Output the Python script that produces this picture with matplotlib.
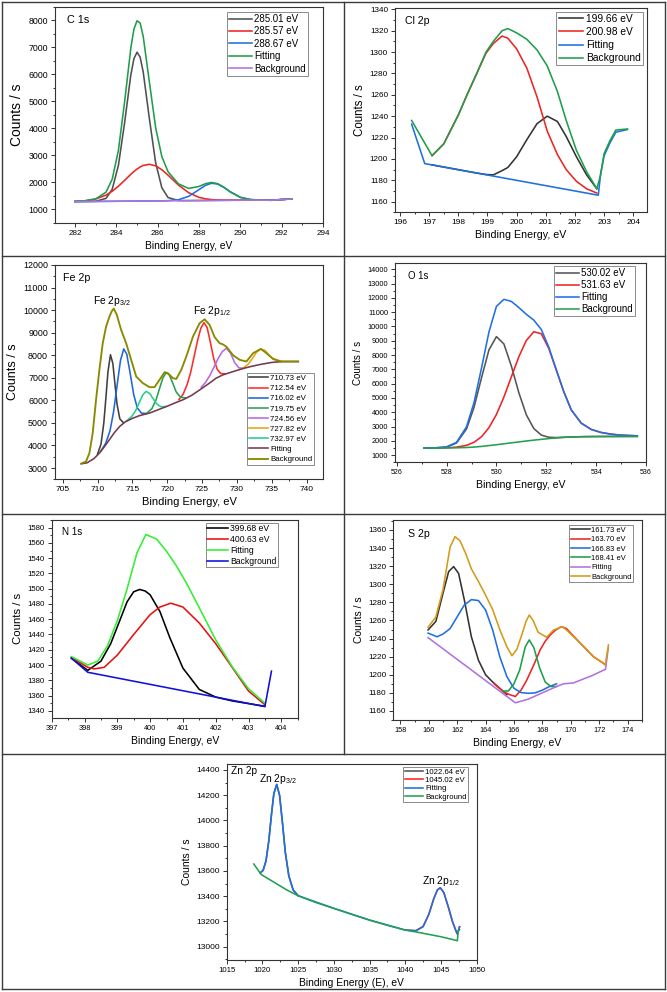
import matplotlib
matplotlib.use("Agg")
import matplotlib.pyplot as plt
from matplotlib.lines import Line2D
from matplotlib.ticker import MultipleLocator

plt.rcParams["font.family"] = ["Liberation Sans", "DejaVu Sans"]
plt.rcParams["mathtext.default"] = "regular"

FIG_W, FIG_H = 667, 992

# ---------------- C 1s ----------------
c1s_x = [282.0, 282.5, 283.0, 283.5, 283.8, 284.1, 284.4, 284.7, 284.85, 285.0,
         285.15, 285.3, 285.6, 285.9, 286.2, 286.5, 287.0, 287.5, 288.0, 288.3,
         288.6, 288.9, 289.2, 289.5, 290.0, 290.5, 291.0, 291.5, 292.0, 292.5]
c1s_285_01 = [1285, 1288, 1295, 1403, 1743, 2632, 4216, 5984, 6585, 6823,
              6642, 6084, 4345, 2729, 1798, 1435, 1322, 1320, 1323, 1325,
              1327, 1329, 1331, 1333, 1336, 1338, 1338, 1334, 1360, 1383]
c1s_285_57 = [1292, 1316, 1379, 1525, 1668, 1854, 2071, 2296, 2400, 2492,
              2568, 2625, 2667, 2609, 2466, 2265, 1900, 1612, 1441, 1388,
              1358, 1343, 1337, 1335, 1336, 1338, 1338, 1334, 1360, 1383]
c1s_288_67 = [1285, 1288, 1290, 1293, 1295, 1297, 1299, 1301, 1302, 1303,
              1304, 1305, 1307, 1309, 1311, 1318, 1353, 1479, 1728, 1881,
              1964, 1935, 1811, 1650, 1441, 1359, 1341, 1334, 1360, 1383]
c1s_fit = [1292, 1316, 1384, 1635, 2116, 3189, 4988, 6979, 7683, 7990,
           7906, 7404, 5705, 4029, 2953, 2392, 1943, 1771, 1846, 1944,
           1995, 1949, 1817, 1652, 1441, 1359, 1341, 1334, 1360, 1383]
c1s_bg = [1285, 1288, 1290, 1293, 1295, 1297, 1299, 1301, 1302, 1303,
          1304, 1305, 1307, 1309, 1311, 1313, 1316, 1320, 1323, 1325,
          1327, 1329, 1331, 1333, 1336, 1338, 1338, 1334, 1360, 1383]

# ---------------- Cl 2p ----------------
cl_base_x = [196.4, 196.85, 202.8, 202.88, 203.0, 203.2, 203.4, 203.8]
cl_base = [1232.5, 1195.6, 1166, 1186, 1203, 1215, 1225, 1227.5]
cl_x = [197.1, 197.5, 198.0, 198.3, 198.65, 198.95, 199.2, 199.5, 199.7, 200.0,
        200.35, 200.7, 201.05, 201.4, 201.7, 202.05, 202.4, 202.75]
cl_199_66 = [1194.4, 1192.4, 1189.9, 1188.4, 1186.7, 1185.4, 1185, 1189, 1192, 1202,
             1218, 1233, 1240, 1235, 1221, 1202, 1185, 1172]
cl_200_98 = [1203, 1214, 1241, 1260, 1281, 1299, 1308, 1315, 1313, 1303,
             1285, 1258, 1226, 1204, 1190, 1179, 1172, 1168]
cl_env_x = [196.4, 197.1, 197.5, 198.0, 198.3, 198.65, 198.95, 199.2, 199.5, 199.7,
            200.0, 200.35, 200.7, 201.05, 201.4, 201.7, 202.05, 202.4, 202.75, 202.88,
            203.0, 203.2, 203.4, 203.8]
cl_env = [1236, 1203, 1214, 1241, 1260, 1281, 1300, 1310, 1320, 1322,
          1318, 1312, 1302, 1287, 1263, 1236, 1208, 1188, 1172, 1185,
          1205, 1217, 1227, 1228]

# ---------------- Fe 2p ----------------
fe_x_710 = [710.0, 710.5, 710.9, 711.2, 711.5, 711.86, 712.2, 712.5, 712.8, 713.2, 713.7]
fe_710 = [3611, 4057, 4983, 6096, 7273, 8020, 7639, 6735, 5834, 5181, 5014]
fe_x_712 = [710.5, 711.2, 711.8, 712.3, 712.8, 713.3, 713.77, 714.2, 714.7, 715.2,
            715.7, 716.3, 717.0]
fe_712 = [3758, 4113, 4661, 5484, 6637, 7778, 8280, 8043, 7173, 6250,
          5674, 5433, 5414]
fe_x_716 = [721.68, 722.28, 722.88, 723.38, 723.88, 724.38, 724.83, 725.28, 725.73,
            726.18, 726.68, 727.18, 727.68, 728.28]
fe_716 = [6031, 6271, 6712, 7259, 7964, 8682, 9196, 9445, 9229,
          8594, 7845, 7375, 7189, 7178]
fe_x_719 = [717.1, 717.8, 718.4, 718.9, 719.4, 719.86, 720.3, 720.8, 721.3, 721.9, 722.6]
fe_719 = [5439, 5630, 6023, 6523, 7011, 7230, 7130, 6762, 6369, 6142, 6106]
fe_x_724 = [724.89, 725.49, 726.09, 726.69, 727.29, 727.89, 728.49, 729.09, 729.69,
            730.29, 730.89]
fe_724 = [6583, 6793, 7084, 7455, 7845, 8158, 8310, 8093, 7667, 7440, 7422]
fe_x_727 = [730.43, 731.03, 731.63, 732.23, 732.83, 733.43, 734.03, 734.63, 735.23,
            735.83, 736.43]
fe_727 = [7373, 7459, 7607, 7856, 8141, 8270, 8211, 8001, 7822, 7739, 7723]
fe_x_732 = [714.2, 714.9, 715.5, 716.0, 716.5, 716.98, 717.5, 718.0, 718.5, 719.1, 719.8]
fe_732 = [5095, 5280, 5561, 5908, 6244, 6400, 6300, 6063, 5843, 5717, 5728]
fe_base_x = [707.7, 708.5, 709.5, 710.3, 711.0, 711.7, 712.4, 713.2, 714.0, 715.0,
             716.0, 717.5, 719.0, 720.0, 721.0, 722.3, 723.5, 724.7, 726.0, 727.0,
             728.0, 729.5, 731.0, 732.0, 733.5, 735.0, 736.6, 738.8]
fe_base = [3190, 3230, 3420, 3670, 3950, 4250, 4560, 4850, 5050, 5200,
           5320, 5440, 5620, 5740, 5870, 6030, 6220, 6470, 6750, 6980,
           7130, 7280, 7420, 7500, 7600, 7680, 7720, 7720]
fe_env_x = [707.64, 708.36, 708.84, 709.31, 709.79, 710.27, 710.75, 711.23, 711.71, 712.05,
            712.33, 712.77, 713.39, 714.11, 714.83, 715.55, 716.51, 717.46, 718.18, 718.9,
            719.62, 720.1, 720.82, 721.3, 722.02, 722.74, 723.7, 724.65, 725.37, 726.09,
            726.81, 727.53, 728.0, 728.49, 729.45, 730.41, 731.37, 732.33, 733.43, 734.24,
            735.2, 736.4, 738.8]
fe_env = [3192, 3295, 3664, 4549, 6025, 7352, 8533, 9270, 9713, 9950,
          10070, 9787, 9123, 8533, 7795, 7057, 6762, 6585, 6585, 6910,
          7249, 7205, 6984, 6950, 7352, 7943, 8828, 9418, 9595, 9344,
          8800, 8533, 8480, 8380, 8000, 7795, 7722, 8090, 8282, 8090,
          7840, 7722, 7722]

# ---------------- O 1s ----------------
o_x = [527.1, 527.5, 528.0, 528.4, 528.8, 529.1, 529.4, 529.7, 530.0, 530.3,
       530.6, 530.9, 531.2, 531.5, 531.8, 532.1, 532.4, 532.7, 533.0, 533.4,
       533.8, 534.2, 534.6, 535.0, 535.65]
o_530_02 = [1500, 1504, 1565, 1854, 2835, 4343, 6406, 8368, 9290, 8773,
            7223, 5356, 3816, 2859, 2403, 2252, 2228, 2250, 2270, 2290,
            2300, 2305, 2307, 2308, 2310]
o_531_63 = [1500, 1502, 1517, 1560, 1686, 1900, 2287, 2923, 3848, 5068,
            6482, 7889, 9024, 9632, 9491, 8460, 6955, 5445, 4170, 3240,
            2800, 2585, 2467, 2398, 2350]
o_fit = [1500, 1506, 1577, 1899, 2986, 4678, 7083, 9621, 11408, 11900,
         11750, 11320, 10850, 10441, 9789, 8552, 6978, 5450, 4170, 3240,
         2800, 2585, 2467, 2398, 2350]
o_bg = [1500, 1500, 1505, 1515, 1535, 1565, 1610, 1670, 1730, 1795,
        1860, 1925, 1990, 2050, 2105, 2160, 2205, 2245, 2270, 2290,
        2300, 2305, 2307, 2308, 2310]

# ---------------- N 1s ----------------
n_x_399 = [397.6, 398.1, 398.5, 398.8, 399.0, 399.3, 399.5, 399.68, 399.85, 400.0,
           400.3, 400.6, 401.0, 401.5, 402.0, 402.5, 403.0, 403.5]
n_399_68 = [1409, 1393, 1405, 1428, 1450, 1483, 1496, 1499, 1497, 1492,
            1470, 1436, 1396, 1368, 1358, 1353, 1349.5, 1346]
n_x_400 = [397.6, 398.1, 398.3, 398.6, 399.0, 399.5, 400.0, 400.3, 400.63, 401.0,
           401.5, 402.0, 402.5, 403.0, 403.5]
n_400_63 = [1410, 1397, 1395, 1397, 1413, 1440, 1466, 1476, 1481, 1476,
            1455, 1428, 1397, 1366, 1348]
n_fit_x = [397.6, 398.1, 398.4, 398.7, 399.0, 399.3, 399.6, 399.87, 400.2, 400.5,
           400.8, 401.1, 401.5, 402.0, 402.5, 403.0, 403.5]
n_fit = [1411, 1400, 1405, 1425, 1458, 1500, 1547, 1571, 1565, 1549,
         1530, 1508, 1475, 1433, 1398, 1369, 1350]
n_bg_x = [397.6, 398.1, 403.5, 403.7]
n_bg = [1409, 1390.5, 1345.5, 1392]

# ---------------- S 2p ----------------
s_x_161 = [159.95, 160.5, 161.0, 161.4, 161.75, 162.1, 162.5, 163.0, 163.5, 164.0,
           164.5, 165.0, 165.5]
s_161_73 = [1249.5, 1259, 1290, 1314, 1319.5, 1312, 1283, 1242, 1216, 1200,
            1192, 1185, 1178]
s_x_163 = [164.6, 165.3, 165.7, 166.1, 166.5, 166.9, 167.4, 167.85, 168.2, 168.56,
           168.9, 169.26, 169.38, 169.7, 170.0, 170.67, 171.6, 172.3, 172.43]
s_163_70 = [1190, 1181, 1178, 1176, 1183, 1194, 1211, 1227.6, 1237, 1244,
            1249, 1252.5, 1253, 1251, 1246, 1235, 1220, 1212.7, 1211]
s_x_166 = [159.95, 160.58, 161.0, 161.5, 162.0, 162.5, 163.0, 163.5, 164.0, 164.5,
           165.0, 165.5, 166.0, 166.5, 167.0, 167.5, 168.0, 168.5, 169.0]
s_166_83 = [1246, 1242, 1245, 1251, 1264, 1277, 1283, 1282, 1271.6, 1249.5,
            1220, 1198, 1185, 1180.3, 1179.5, 1180, 1183, 1187, 1190]
s_x_168 = [165.2, 165.6, 166.0, 166.4, 166.8, 167.08, 167.4, 167.8, 168.2, 168.6, 169.0]
s_168_41 = [1182, 1182, 1190, 1205, 1231, 1238.5, 1230, 1208, 1192, 1187, 1187]
s_base_x = [159.95, 166.1, 167.0, 168.0, 169.0, 169.5, 170.2, 171.0, 171.5, 172.3,
            172.45, 172.65]
s_base = [1241, 1169, 1173, 1180, 1187, 1190, 1191, 1196, 1199, 1205, 1206, 1230]
s_env_x = [159.95, 160.5, 161.0, 161.5, 161.85, 162.2, 162.6, 163.0, 163.5, 164.0,
           164.5, 165.0, 165.5, 165.86, 166.2, 166.55, 166.85, 167.08, 167.35, 167.7,
           168.3, 168.8, 169.4, 169.7, 170.67, 171.6, 172.3, 172.43, 172.66]
s_env = [1252.5, 1264, 1294, 1341, 1352.6, 1348, 1334, 1317, 1303, 1288,
         1272, 1250, 1231, 1221, 1228, 1244, 1259, 1266, 1260, 1247,
         1241.4, 1249.5, 1253, 1249.5, 1235, 1220, 1212.7, 1211, 1233]

# ---------------- Zn 2p ----------------
zn_fit_x = [1019.7, 1020.1, 1020.5, 1020.9, 1021.3, 1021.6, 1022.0, 1022.4, 1022.8, 1023.2,
            1023.7, 1024.3, 1025.0, 1030.0, 1035.0, 1040.0, 1041.5, 1042.5, 1043.3, 1044.0,
            1044.5, 1044.9, 1045.4, 1046.0, 1046.6, 1047.1, 1047.3, 1047.6]
zn_fit = [13585, 13605, 13680, 13840, 14065, 14212, 14285, 14200, 13985, 13750,
          13560, 13450, 13404, 13304, 13211, 13132, 13127, 13160, 13257, 13382,
          13450, 13467, 13428, 13320, 13201, 13125, 13100, 13158]
zn_bg_x = [1018.8, 1019.8, 1021.5, 1023.4, 1025.0, 1027.5, 1030.0, 1032.5, 1035.0, 1037.5,
           1040.0, 1042.0, 1045.0, 1047.3, 1047.4, 1047.6]
zn_bg = [13655, 13573, 13515, 13450, 13404, 13350, 13304, 13257, 13211, 13170,
         13132, 13112, 13079, 13048, 13125, 13135]

fig = plt.figure(figsize=(FIG_W / 100, FIG_H / 100), dpi=100)


def px_axes(left, top, right, bottom):
    return fig.add_axes([left / FIG_W, 1 - bottom / FIG_H,
                         (right - left) / FIG_W, (bottom - top) / FIG_H])


def fig_line(x0, y0, x1, y1):
    fig.add_artist(Line2D([x0 / FIG_W, x1 / FIG_W], [1 - y0 / FIG_H, 1 - y1 / FIG_H],
                          transform=fig.transFigure, color="#3a3a3a", lw=1.0))


def style(ax, xlim, ylim, xstep, ystep, xtick_fs, ytick_fs, xlabel_fs, ylabel_fs,
          xlabel="Binding Energy, eV"):
    ax.set_xlim(*xlim)
    ax.set_ylim(*ylim)
    ax.xaxis.set_major_locator(MultipleLocator(xstep))
    ax.xaxis.set_minor_locator(MultipleLocator(xstep / 2))
    ax.yaxis.set_major_locator(MultipleLocator(ystep))
    ax.yaxis.set_minor_locator(MultipleLocator(ystep / 2))
    ax.tick_params(which="both", direction="out", top=False, right=False,
                   width=0.7, color="#333333", pad=2)
    ax.tick_params(axis="x", labelsize=xtick_fs)
    ax.tick_params(axis="y", labelsize=ytick_fs)
    ax.tick_params(which="major", length=3.0)
    ax.tick_params(which="minor", length=1.6)
    for sp in ax.spines.values():
        sp.set_linewidth(0.8)
        sp.set_color("#333333")
    ax.set_xlabel(xlabel, fontsize=xlabel_fs, labelpad=3)
    ax.set_ylabel("Counts / s", fontsize=ylabel_fs, labelpad=3)


def add_legend(ax, loc, anchor, fs, spacing=0.2, hl=2.4):
    leg = ax.legend(loc=loc, bbox_to_anchor=anchor, fontsize=fs, frameon=True,
                    fancybox=False, edgecolor="#8a8a8a", framealpha=1,
                    borderaxespad=0, handlelength=hl, handletextpad=0.25,
                    labelspacing=spacing, borderpad=0.2)
    leg.get_frame().set_linewidth(0.7)


def panel_label(ax, x, y, text, fs):
    ax.text(x, y, text, transform=ax.transAxes, ha="left", va="top", fontsize=fs)


LW = 1.15

# C 1s
ax = px_axes(55, 7, 323, 223)
ax.plot(c1s_x, c1s_285_01, color="#505050", lw=LW, label="285.01 eV")
ax.plot(c1s_x, c1s_285_57, color="#ee2424", lw=LW, label="285.57 eV")
ax.plot(c1s_x, c1s_288_67, color="#1f6fe0", lw=LW, label="288.67 eV")
ax.plot(c1s_x, c1s_fit, color="#1f9e4a", lw=LW, label="Fitting")
ax.plot(c1s_x, c1s_bg, color="#b072e0", lw=LW, label="Background")
style(ax, (281.03, 294), (490, 8500), 2, 1000, 5.8, 6.3, 7.4, 10)
add_legend(ax, "upper right", (0.944, 0.977), 7.0, spacing=0.25)
panel_label(ax, 0.045, 0.965, "C 1s", 7.8)

# Cl 2p
ax = px_axes(395, 8.3, 646.7, 212.3)
ax.plot(cl_x, cl_199_66, color="#333333", lw=LW, label="199.66 eV")
ax.plot(cl_x, cl_200_98, color="#ee2424", lw=LW, label="200.98 eV")
ax.plot(cl_base_x, cl_base, color="#1f6fe0", lw=LW, label="Fitting")
ax.plot(cl_env_x, cl_env, color="#1f9e4a", lw=LW, label="Background")
style(ax, (195.83, 204.46), (1150, 1341), 1, 20, 6.0, 5.9, 7.7, 8.3)
add_legend(ax, "upper right", (0.984, 0.983), 7.4, spacing=0.31)
panel_label(ax, 0.04, 0.96, "Cl 2p", 7.6)

# Fe 2p
ax = px_axes(55, 265, 323.3, 479.3)
ax.plot(fe_x_710, fe_710, color="#404040", lw=LW, label="710.73 eV")
ax.plot(fe_x_716, fe_716, color="#ff2a2a", lw=LW, label="712.54 eV")
ax.plot(fe_x_712, fe_712, color="#1f66dd", lw=LW, label="716.02 eV")
ax.plot(fe_x_719, fe_719, color="#2a9e52", lw=LW, label="719.75 eV")
ax.plot(fe_x_724, fe_724, color="#b46ae0", lw=LW, label="724.56 eV")
ax.plot(fe_x_727, fe_727, color="#e8a317", lw=LW, label="727.82 eV")
ax.plot(fe_x_732, fe_732, color="#22d08c", lw=LW, label="732.97 eV")
ax.plot(fe_base_x, fe_base, color="#743a4c", lw=LW, label="Fitting")
ax.plot(fe_env_x, fe_env, color="#8a8a00", lw=LW + 0.2, label="Background")
style(ax, (703.9, 742.4), (2500, 12000), 5, 1000, 6.0, 6.4, 8.0, 9.0)
add_legend(ax, "lower right", (0.966, 0.067), 5.7, spacing=0.33, hl=2.5)
panel_label(ax, 0.03, 0.965, "Fe 2p", 7.7)
ax.text(712.1, 10260, r"Fe 2p$\mathregular{_{3/2}}$", ha="center", va="baseline", fontsize=7.4)
ax.text(726.4, 9818, r"Fe 2p$\mathregular{_{1/2}}$", ha="center", va="baseline", fontsize=7.4)

# O 1s
ax = px_axes(395, 262.7, 646, 462.3)
ax.plot(o_x, o_530_02, color="#555555", lw=LW, label="530.02 eV")
ax.plot(o_x, o_531_63, color="#ee2424", lw=LW, label="531.63 eV")
ax.plot(o_x, o_fit, color="#1f6fe6", lw=LW, label="Fitting")
ax.plot(o_x, o_bg, color="#22a050", lw=LW, label="Background")
style(ax, (525.93, 536.0), (500, 14460), 2, 1000, 5.0, 5.3, 7.6, 7.0)
add_legend(ax, "upper right", (0.956, 0.982), 7.0, spacing=0.2)
panel_label(ax, 0.053, 0.958, "O 1s", 6.9)

# N 1s
ax = px_axes(51.7, 520, 297.7, 717.7)
ax.plot(n_x_399, n_399_68, color="#000000", lw=LW, label="399.68 eV")
ax.plot(n_x_400, n_400_63, color="#e81010", lw=LW, label="400.63 eV")
ax.plot(n_fit_x, n_fit, color="#33ee33", lw=LW, label="Fitting")
ax.plot(n_bg_x, n_bg, color="#1010dd", lw=LW, label="Background")
style(ax, (397, 404.5), (1331, 1590), 1, 20, 5.3, 5.6, 7.5, 8.2)
add_legend(ax, "upper right", (0.921, 0.986), 6.2, spacing=0.2)
panel_label(ax, 0.043, 0.963, "N 1s", 7.1)

# S 2p
ax = px_axes(393.3, 520, 641.7, 720)
ax.plot(s_x_161, s_161_73, color="#333333", lw=LW, label="161.73 eV")
ax.plot(s_x_163, s_163_70, color="#ee2424", lw=LW, label="163.70 eV")
ax.plot(s_x_166, s_166_83, color="#1f6fe0", lw=LW, label="166.83 eV")
ax.plot(s_x_168, s_168_41, color="#1f9e4a", lw=LW, label="168.41 eV")
ax.plot(s_base_x, s_base, color="#b072e0", lw=LW, label="Fitting")
ax.plot(s_env_x, s_env, color="#d49a1a", lw=LW, label="Background")
style(ax, (157.5, 175), (1150, 1371), 2, 20, 5.3, 5.9, 7.5, 7.5)
add_legend(ax, "upper right", (0.966, 0.975), 5.4, spacing=0.29, hl=2.5)
panel_label(ax, 0.06, 0.953, "S 2p", 7.6)

# Zn 2p
ax = px_axes(226.7, 764, 476.7, 960)
ax.plot(zn_fit_x[:13], zn_fit[:13], color="#555555", lw=LW, label="1022.64 eV")
ax.plot(zn_fit_x[15:], zn_fit[15:], color="#ff2222", lw=LW, label="1045.02 eV")
ax.plot(zn_fit_x, zn_fit, color="#1f6fe0", lw=LW, label="Fitting")
ax.plot(zn_bg_x, zn_bg, color="#22a050", lw=LW, label="Background")
style(ax, (1015, 1050), (12895, 14447), 5, 200, 5.6, 6.0, 7.4, 7.5,
      xlabel="Binding Energy (E), eV")
add_legend(ax, "upper right", (0.967, 0.985), 5.6, spacing=0.1)
panel_label(ax, 0.016, 0.99, "Zn 2p", 7.3)
ax.text(1022.2, 14307, r"Zn 2p$\mathregular{_{3/2}}$", ha="center", va="baseline", fontsize=7.4)
ax.text(1045.05, 13497, r"Zn 2p$\mathregular{_{1/2}}$", ha="center", va="baseline", fontsize=7.4)

# cell borders
fig_line(2, 2, 665, 2)
fig_line(2, 989, 665, 989)
fig_line(2, 2, 2, 989)
fig_line(665, 2, 665, 989)
fig_line(344, 2, 344, 754)
fig_line(2, 256, 665, 256)
fig_line(2, 514, 665, 514)
fig_line(2, 754, 665, 754)

fig.savefig("out.png", dpi=100)
